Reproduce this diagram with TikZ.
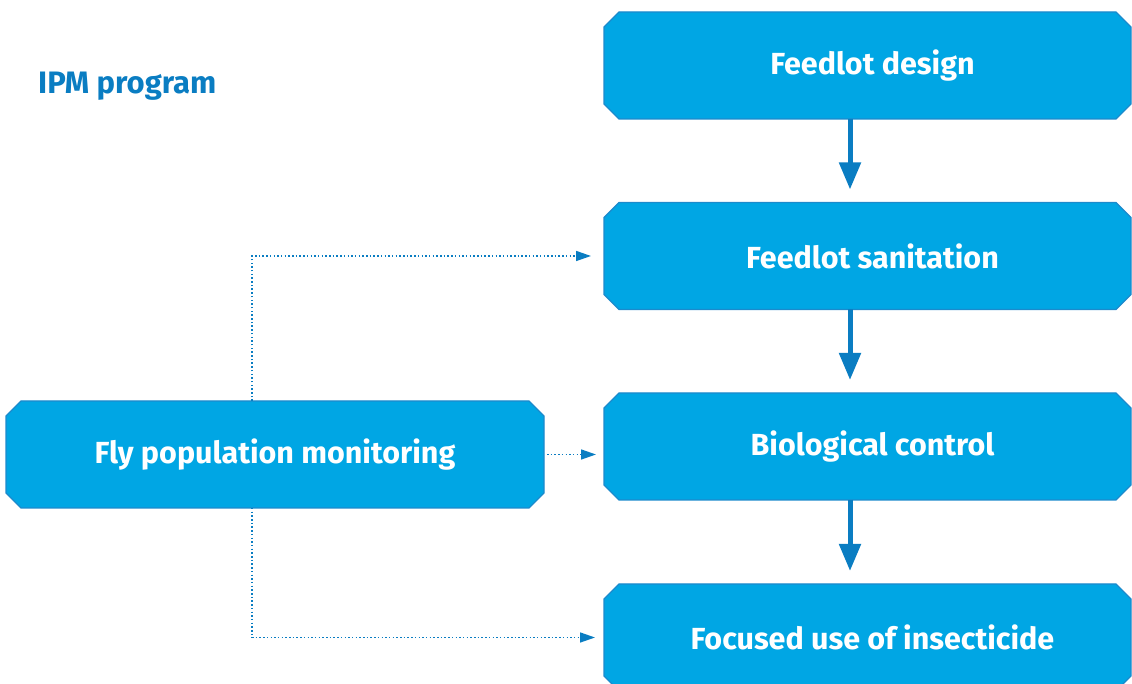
\documentclass[tikz,border=0pt]{standalone}
\usepackage{fontspec}
\setmainfont{Fira Sans}
\usetikzlibrary{positioning,shapes.misc,arrows.meta}

\definecolor{boxFill}{RGB}{0,166,228}
\definecolor{boxDraw}{RGB}{28,138,204}
\definecolor{arrowColor}{RGB}{10,125,194}

\tikzset{
  stagebox/.style={chamfered rectangle,chamfered rectangle xsep=7.5,chamfered rectangle ysep=7.5,
    fill=boxFill,draw=boxDraw,line width=1.2pt,text=white,font=\bfseries\fontsize{30.5}{36}\selectfont,
    inner sep=0pt,outer sep=0pt,minimum height=107,minimum width=527},
  rightbox/.style={stagebox,execute at begin node=\hspace*{10pt}},
  flowarrow/.style={draw=arrowColor,line width=5pt,-{Triangle[width=21pt,length=27pt]},shorten >=13pt},
  monitorarrow/.style={draw=arrowColor,line width=1.5pt,dash pattern=on 1.5pt off 2.2pt,
    -{Triangle[width=10pt,length=15pt]}}
}

\begin{document}
\begin{tikzpicture}[x=1pt,y=1pt]
\path[use as bounding box] (0,0) rectangle (1132,684);
\clip (0,0) rectangle (1132,684);

\node[text=arrowColor,anchor=base west,inner sep=0pt,font=\bfseries\fontsize{31}{36}\selectfont] (title) at (38,590) {IPM program};

\node[rightbox] (design) at (867.5,618.5) {Feedlot design};
\node[rightbox] (sanit) at (867.5,428) {Feedlot sanitation};
\node[rightbox] (bio) at (867.5,237.5) {Biological control};
\node[rightbox] (focus) at (867.5,46.5) {Focused use of insecticide};
\node[stagebox,minimum width=538] (fly) at (275,229.5) {Fly population monitoring};

\coordinate (monX) at (252,0);

\path[flowarrow] (design.south -| 850,0) -- (sanit.north -| 850,0);
\path[flowarrow] (sanit.south -| 850,0) -- (bio.north -| 850,0);
\path[flowarrow] (bio.south -| 850,0) -- (focus.north -| 850,0);

\path[monitorarrow,shorten >=13pt] (fly.north -| monX) |- (sanit.west);
\path[monitorarrow,shorten <=3pt,shorten >=8pt] (fly.east) -- (fly.east -| bio.west);
\path[monitorarrow,shorten >=9pt] (fly.south -| monX) |- (focus.west);
\end{tikzpicture}
\end{document}
